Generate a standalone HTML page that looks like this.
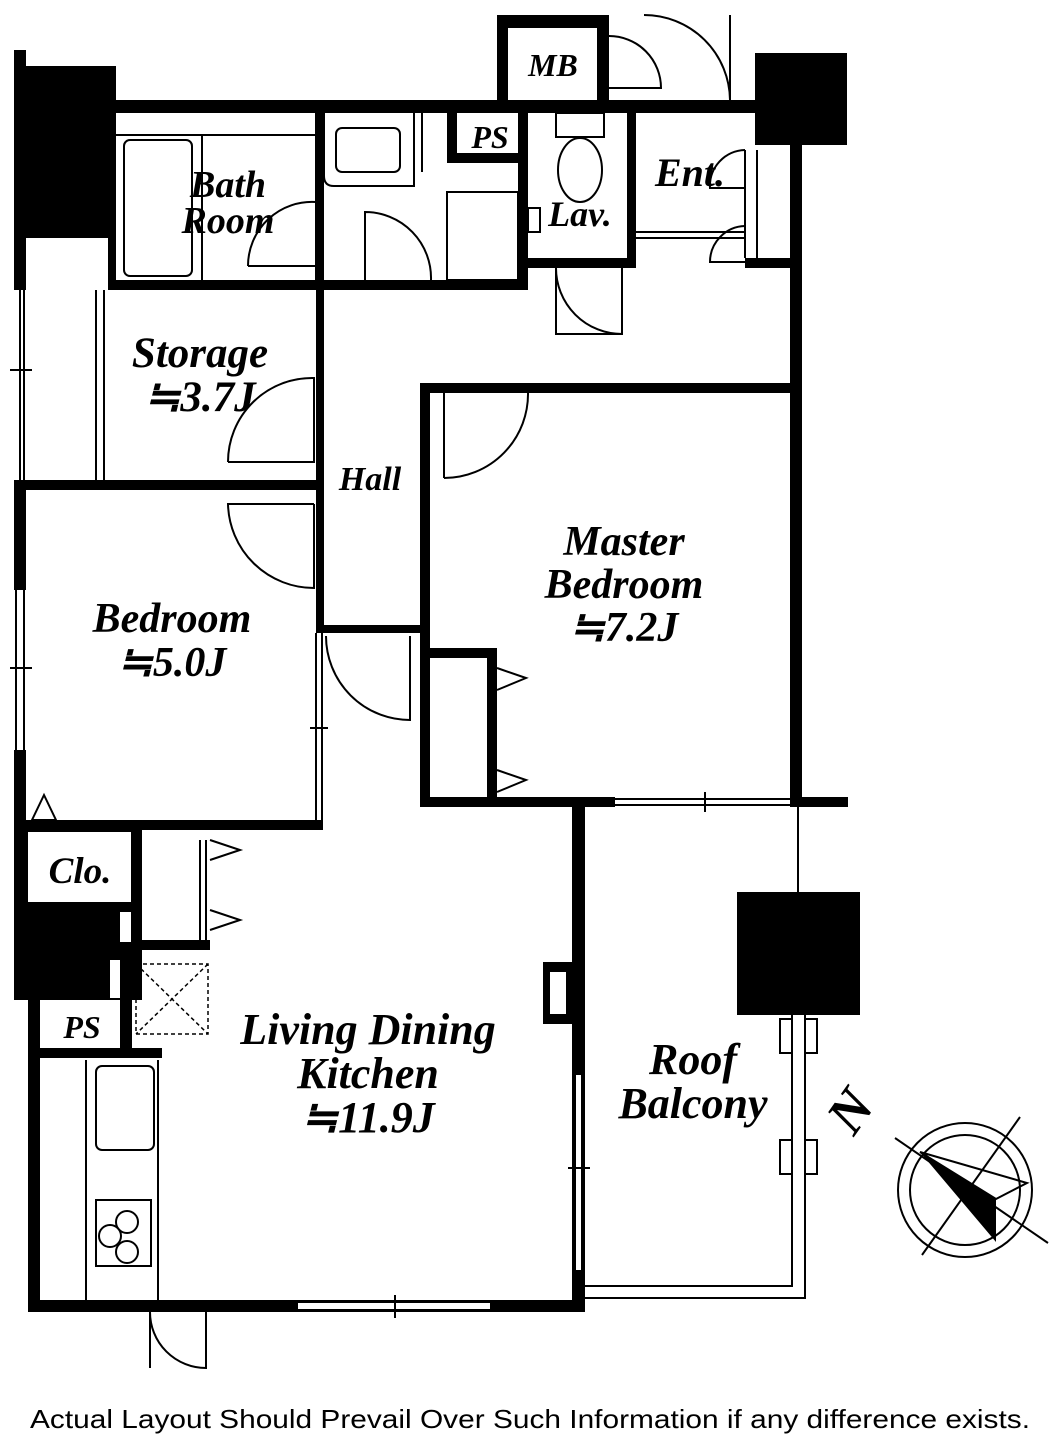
<!DOCTYPE html>
<html><head><meta charset="utf-8"><style>
html,body{margin:0;padding:0;background:#fff;}
svg{display:block;}
.t{font-family:"Liberation Serif",serif;font-weight:bold;font-style:italic;fill:#000;}
</style></head><body>
<svg width="1062" height="1448" viewBox="0 0 1062 1448" xmlns="http://www.w3.org/2000/svg">
<g fill="#000">
<!-- left exterior -->
<rect x="14" y="50" width="12" height="240"/>
<rect x="26" y="66" width="90" height="172"/>
<rect x="14" y="480" width="12" height="520"/>
<rect x="14" y="828" width="128" height="172"/>
<rect x="120" y="955" width="12" height="103"/>
<rect x="28" y="1000" width="12" height="312"/>
<rect x="28" y="1048" width="134" height="10"/>
<rect x="28" y="1300" width="557" height="12"/>
<!-- top -->
<rect x="108" y="100" width="649" height="13"/>
<rect x="497" y="15" width="112" height="13"/>
<rect x="497" y="15" width="11" height="98"/>
<rect x="597" y="15" width="12" height="98"/>
<rect x="755" y="53" width="92" height="92"/>
<rect x="108" y="100" width="8" height="190"/>
<!-- right wall -->
<rect x="790" y="145" width="12" height="660"/>
<rect x="745" y="258" width="55" height="10"/>
<!-- bath bottom -->
<rect x="108" y="280" width="420" height="10"/>
<rect x="315" y="113" width="9" height="177"/>
<rect x="447" y="113" width="10" height="50"/>
<rect x="447" y="153" width="80" height="10"/>
<rect x="518" y="113" width="10" height="177"/>
<rect x="518" y="258" width="117" height="10"/>
<rect x="627" y="113" width="9" height="155"/>
<!-- hall -->
<rect x="316" y="290" width="8" height="338"/>
<rect x="420" y="383" width="382" height="10"/>
<rect x="420" y="383" width="10" height="424"/>
<rect x="14" y="480" width="310" height="10"/>
<rect x="316" y="625" width="104" height="8"/>
<!-- master bottom -->
<rect x="420" y="797" width="195" height="10"/>
<rect x="790" y="797" width="58" height="10"/>
<rect x="428" y="648" width="69" height="10"/>
<rect x="487" y="648" width="10" height="152"/>
<!-- bedroom bottom -->
<rect x="26" y="820" width="297" height="10"/>
<rect x="131" y="940" width="79" height="10"/>
<rect x="572" y="807" width="13" height="505"/>
<rect x="543" y="962" width="32" height="62"/>
<!-- balcony pillar -->
<rect x="737" y="892" width="123" height="123"/>
</g>
<g fill="#fff">
<rect x="26" y="238" width="82" height="42"/>
<rect x="14" y="590" width="12" height="160"/>
<rect x="28" y="832" width="103" height="70"/>
<rect x="120" y="912" width="11" height="30"/>
<rect x="110" y="960" width="10" height="38"/>
<rect x="508" y="28" width="89" height="72"/>
<rect x="550" y="972" width="16" height="42"/>
<rect x="574" y="1075" width="9" height="195"/>
<rect x="298" y="1302" width="192" height="8"/>
</g>
<g fill="none" stroke="#000" stroke-width="2">
<!-- windows -->
<line x1="20" y1="290" x2="20" y2="480"/><line x1="24" y1="290" x2="24" y2="480"/>
<line x1="10" y1="370" x2="32" y2="370"/>
<line x1="16" y1="590" x2="16" y2="750"/><line x1="24" y1="590" x2="24" y2="750"/>
<line x1="10" y1="668" x2="32" y2="668"/>
<line x1="96" y1="290" x2="96" y2="480"/><line x1="104" y1="290" x2="104" y2="480"/>
<line x1="316" y1="633" x2="316" y2="820"/><line x1="322" y1="633" x2="322" y2="820"/>
<line x1="310" y1="728" x2="328" y2="728"/>
<line x1="615" y1="799" x2="790" y2="799"/><line x1="615" y1="805" x2="790" y2="805"/>
<line x1="705" y1="792" x2="705" y2="812"/>
<line x1="575" y1="1075" x2="575" y2="1270"/><line x1="582" y1="1075" x2="582" y2="1270"/>
<line x1="568" y1="1168" x2="590" y2="1168"/>
<line x1="298" y1="1302" x2="490" y2="1302"/><line x1="298" y1="1310" x2="490" y2="1310"/>
<line x1="395" y1="1295" x2="395" y2="1318"/>
<line x1="792" y1="425" x2="792" y2="560"/><line x1="800" y1="425" x2="800" y2="560"/>
<!-- doors -->
<path d="M248 266 L316 266 L316 202 A64 64 0 0 0 248 266"/>
<path d="M365 280 L365 212 A66 66 0 0 1 431 280"/>
<path d="M556 268 L556 334 L622 334 L622 268 M556 268 A66 66 0 0 0 622 334"/>
<path d="M228 462 L314 462 L314 378 A84 84 0 0 0 228 462"/>
<path d="M444 392 L444 478 M528 392 A84 84 0 0 1 444 478"/>
<path d="M314 504 L314 588 A86 86 0 0 1 228 504 L314 504"/>
<path d="M326 636 A84 84 0 0 0 410 720 L410 636"/>
<path d="M609 36 A52 52 0 0 1 661 88 L609 88"/>
<path d="M644 15 A86 86 0 0 1 730 100 L730 15"/>
<path d="M150 1312 L150 1368 M150 1312 A56 56 0 0 0 206 1368 L206 1312"/>
<path d="M745 150 A36 36 0 0 0 710 188 L745 188 M745 226 A36 36 0 0 0 710 262 L745 262"/>
<line x1="757" y1="150" x2="757" y2="258"/><line x1="745" y1="150" x2="745" y2="258"/>
<line x1="636" y1="232" x2="745" y2="232"/><line x1="636" y1="238" x2="745" y2="238"/>
<!-- fixtures -->
<rect x="124" y="140" width="68" height="136" rx="6"/>
<line x1="116" y1="135" x2="315" y2="135"/>
<line x1="202" y1="135" x2="202" y2="280"/>
<rect x="336" y="128" width="64" height="44" rx="6"/>
<path d="M324 113 L324 176 Q324 186 334 186 L414 186 L414 113 M422 113 L422 172"/>
<rect x="447" y="192" width="71" height="88"/>
<rect x="556" y="113" width="48" height="24"/>
<ellipse cx="580" cy="170" rx="22" ry="32"/>
<rect x="528" y="208" width="12" height="24"/>
<path d="M30 824 L130 824 M44 795 L32 820 L56 820 Z"/>
<path d="M200 840 L200 940 M206 840 L206 940 M210 840 L240 850 L210 860 M210 910 L240 920 L210 930"/>
<path d="M488 660 L488 795 M494 660 L494 795 M497 668 L526 678 L497 690 M497 770 L526 780 L497 792"/>
<line x1="86" y1="1060" x2="86" y2="1300"/>
<line x1="158" y1="1060" x2="158" y2="1300"/>
<rect x="96" y="1066" width="58" height="84" rx="6"/>
<rect x="96" y="1200" width="55" height="66"/>
<circle cx="127" cy="1222" r="11"/><circle cx="110" cy="1236" r="11"/><circle cx="127" cy="1252" r="11"/>
<!-- balcony -->
<line x1="798" y1="807" x2="798" y2="892"/>
<path d="M585 1286 L792 1286 L792 1015 M585 1298 L805 1298 L805 1015"/>
<rect x="780" y="1019" width="12" height="34"/><rect x="805" y="1019" width="12" height="34"/>
<rect x="780" y="1140" width="12" height="34"/><rect x="805" y="1140" width="12" height="34"/>
<!-- compass -->
<circle cx="965" cy="1190" r="67"/><circle cx="965" cy="1190" r="55"/>
<line x1="895" y1="1138" x2="1048" y2="1243"/>
<line x1="1020" y1="1117" x2="922" y2="1255"/>
<path d="M920 1152 L1027 1183 L996 1199 Z"/>
</g>
<path d="M920 1152 L996 1199 L996 1242 Z" fill="#000"/>
<rect x="136" y="964" width="72" height="70" fill="none" stroke="#000" stroke-width="1.5" stroke-dasharray="4 3"/>
<path d="M136 964 L208 1034 M208 964 L136 1034" stroke="#000" stroke-width="1.5" stroke-dasharray="4 3"/>
<text class="t" x="852" y="1128" font-size="54" transform="rotate(-55 852 1112)" text-anchor="middle">N</text>
<g class="t" text-anchor="middle">
<text x="553" y="76" font-size="32">MB</text>
<text x="490" y="148" font-size="32">PS</text>
<text x="228" y="197" font-size="38">Bath</text>
<text x="228" y="233" font-size="38">Room</text>
<text x="580" y="226" font-size="36">Lav.</text>
<text x="690" y="186" font-size="40">Ent.</text>
<text x="200" y="367" font-size="43">Storage</text>
<text x="200" y="411" font-size="43">≒3.7J</text>
<text x="370" y="490" font-size="34">Hall</text>
<text x="624" y="555" font-size="42">Master</text>
<text x="624" y="598" font-size="42">Bedroom</text>
<text x="624" y="641" font-size="42">≒7.2J</text>
<text x="172" y="632" font-size="42">Bedroom</text>
<text x="172" y="676" font-size="42">≒5.0J</text>
<text x="80" y="883" font-size="37">Clo.</text>
<text x="82" y="1038" font-size="32">PS</text>
<text x="368" y="1044" font-size="44">Living Dining</text>
<text x="368" y="1088" font-size="44">Kitchen</text>
<text x="368" y="1132" font-size="44">≒11.9J</text>
<text x="693" y="1074" font-size="44">Roof</text>
<text x="693" y="1118" font-size="44">Balcony</text>
</g>
<text x="30" y="1428" font-family="Liberation Sans,sans-serif" font-size="26" textLength="1000" lengthAdjust="spacingAndGlyphs" fill="#000">Actual Layout Should Prevail Over Such Information if any difference exists.</text>
</svg>
</body></html>
